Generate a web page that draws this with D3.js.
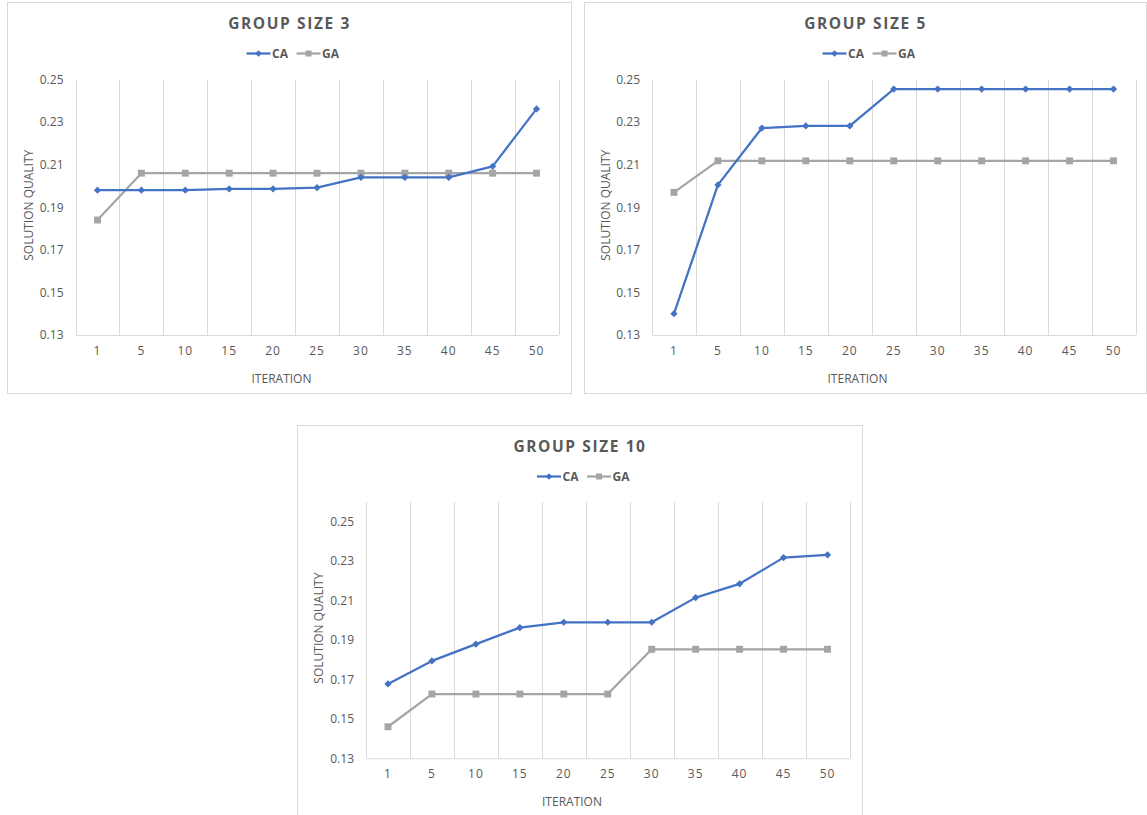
<!DOCTYPE html>
<html>
<head>
<meta charset="utf-8">
<script src="https://cdn.jsdelivr.net/npm/d3@7/dist/d3.min.js"></script>
<style>
  html, body { margin: 0; padding: 0; background: #ffffff; }
  svg { display: block; }
  text { font-family: "Open Sans", "Liberation Sans", sans-serif; fill: #595959; }
</style>
</head>
<body>
<svg id="chart" width="1147" height="815"></svg>
<script>
// ---------- DATA ----------
const iterations = ["1", "5", "10", "15", "20", "25", "30", "35", "40", "45", "50"];
const yTickValues = [0.13, 0.15, 0.17, 0.19, 0.21, 0.23, 0.25];
const seriesNames = ["CA", "GA"];
const titles = ["GROUP SIZE 3", "GROUP SIZE 5", "GROUP SIZE 10"];

const ca3 = [0.198, 0.198, 0.198, 0.1986, 0.1986, 0.1992, 0.204, 0.204, 0.204, 0.2092, 0.2362];
const ga3 = [0.184, 0.206, 0.206, 0.206, 0.206, 0.206, 0.206, 0.206, 0.206, 0.206, 0.206];

const ca5 = [0.14, 0.2005, 0.2272, 0.2282, 0.2282, 0.2455, 0.2455, 0.2455, 0.2455, 0.2455, 0.2455];
const ga5 = [0.197, 0.2118, 0.2118, 0.2118, 0.2118, 0.2118, 0.2118, 0.2118, 0.2118, 0.2118, 0.2118];

const ca10 = [0.1677, 0.1794, 0.1879, 0.1963, 0.199, 0.199, 0.199, 0.2115, 0.2185, 0.2318, 0.2332];
const ga10 = [0.146, 0.1626, 0.1626, 0.1626, 0.1626, 0.1626, 0.1853, 0.1853, 0.1853, 0.1853, 0.1853];

// ---------- STYLE / LAYOUT ----------
const colors = { CA: "#4472C4", GA: "#A5A5A5" };
const gridColor = "#d9d9d9";

const panels = [
  { title: titles[0], ca: ca3, ga: ga3, box: { x: 7.5, y: 2.5, w: 564, h: 391 },
    plot: { l: 75.5, r: 558.5, t: 79.5, b: 335 }, yMax: 0.25 },
  { title: titles[1], ca: ca5, ga: ga5, box: { x: 584.5, y: 2.5, w: 562, h: 391 },
    plot: { l: 652, r: 1135.5, t: 79.5, b: 335 }, yMax: 0.25 },
  { title: titles[2], ca: ca10, ga: ga10, box: { x: 297.5, y: 425.5, w: 565, h: 400 },
    plot: { l: 366, r: 849.5, t: 502, b: 758.3 }, yMax: 0.26 }
];

const svg = d3.select("#chart");

function drawPanel(p) {
  const g = svg.append("g");
  const cx = p.box.x + p.box.w / 2;

  g.append("rect")
    .attr("x", p.box.x).attr("y", p.box.y)
    .attr("width", p.box.w).attr("height", p.box.h)
    .attr("fill", "#fff").attr("stroke", gridColor).attr("stroke-width", 1);

  const x = d3.scaleBand().domain(iterations).range([p.plot.l, p.plot.r]).padding(0);
  const y = d3.scaleLinear().domain([0.13, p.yMax]).range([p.plot.b, p.plot.t]);

  // vertical gridlines (category boundaries)
  const bounds = iterations.map(d => x(d)).concat([p.plot.r]);
  g.append("g").selectAll("line").data(bounds).join("line")
    .attr("x1", d => Math.round(d) + 0.5).attr("x2", d => Math.round(d) + 0.5)
    .attr("y1", p.plot.t).attr("y2", p.plot.b)
    .attr("stroke", gridColor).attr("stroke-width", 1);

  // x axis
  const xAxis = g.append("g").attr("transform", `translate(0,${p.plot.b})`)
    .call(d3.axisBottom(x).tickSize(0).tickPadding(11));
  xAxis.select(".domain").attr("stroke", gridColor).attr("stroke-width", 1);
  xAxis.selectAll("text").attr("font-size", 12).attr("letter-spacing", "1px")
    .attr("font-family", "Open Sans").attr("fill", "#595959");

  // y axis labels
  const yAxis = g.append("g").attr("transform", `translate(${p.plot.l},0)`)
    .call(d3.axisLeft(y).tickValues(yTickValues).tickSize(0).tickPadding(12).tickFormat(d3.format(".2f")));
  yAxis.select(".domain").remove();
  yAxis.selectAll("text").attr("font-size", 12)
    .attr("font-family", "Open Sans").attr("fill", "#595959");

  // axis titles
  g.append("text").attr("x", cx - 8).attr("y", p.plot.b + 43)
    .attr("text-anchor", "middle").attr("dominant-baseline", "central")
    .attr("font-size", 12).text("ITERATION");
  g.append("text")
    .attr("transform", `translate(${p.box.x + 21},${(p.plot.t + p.plot.b) / 2 - 2}) rotate(-90)`)
    .attr("text-anchor", "middle").attr("dominant-baseline", "central")
    .attr("font-size", 12).text("SOLUTION QUALITY");

  // title
  g.append("text").attr("x", cx).attr("y", p.box.y + 20.5)
    .attr("text-anchor", "middle").attr("dominant-baseline", "central")
    .attr("font-size", 15.5).attr("font-weight", "bold").attr("letter-spacing", "1.6px")
    .text(p.title);

  // legend
  const ly = p.box.y + 51;
  const legendItems = [
    { name: seriesNames[0], x0: cx - 43, rot: 45, size: 22 },
    { name: seriesNames[1], x0: cx + 7, rot: 0, size: 36 }
  ];
  legendItems.forEach(it => {
    g.append("line").attr("x1", it.x0).attr("x2", it.x0 + 24)
      .attr("y1", ly).attr("y2", ly)
      .attr("stroke", colors[it.name]).attr("stroke-width", 2.25);
    g.append("path").attr("d", d3.symbol().type(d3.symbolSquare).size(it.size)())
      .attr("transform", `translate(${it.x0 + 12},${ly}) rotate(${it.rot})`)
      .attr("fill", colors[it.name]);
    g.append("text").attr("x", it.x0 + 25.5).attr("y", ly)
      .attr("dominant-baseline", "central")
      .attr("font-size", 12).attr("font-weight", "bold").text(it.name);
  });

  // series
  const series = [
    { name: "GA", values: p.ga, rot: 0, size: 48 },
    { name: "CA", values: p.ca, rot: 45, size: 26 }
  ];
  const line = d3.line()
    .x((d, i) => x(iterations[i]) + x.bandwidth() / 2)
    .y(d => y(d));
  series.forEach(s => {
    g.append("path").datum(s.values).attr("d", line)
      .attr("fill", "none").attr("stroke", colors[s.name]).attr("stroke-width", 2.25)
      .attr("stroke-linejoin", "round");
    g.append("g").selectAll("path").data(s.values).join("path")
      .attr("d", d3.symbol().type(d3.symbolSquare).size(s.size)())
      .attr("transform", (d, i) => `translate(${x(iterations[i]) + x.bandwidth() / 2},${y(d)}) rotate(${s.rot})`)
      .attr("fill", colors[s.name]);
  });
}

panels.forEach(drawPanel);
</script>
</body>
</html>
